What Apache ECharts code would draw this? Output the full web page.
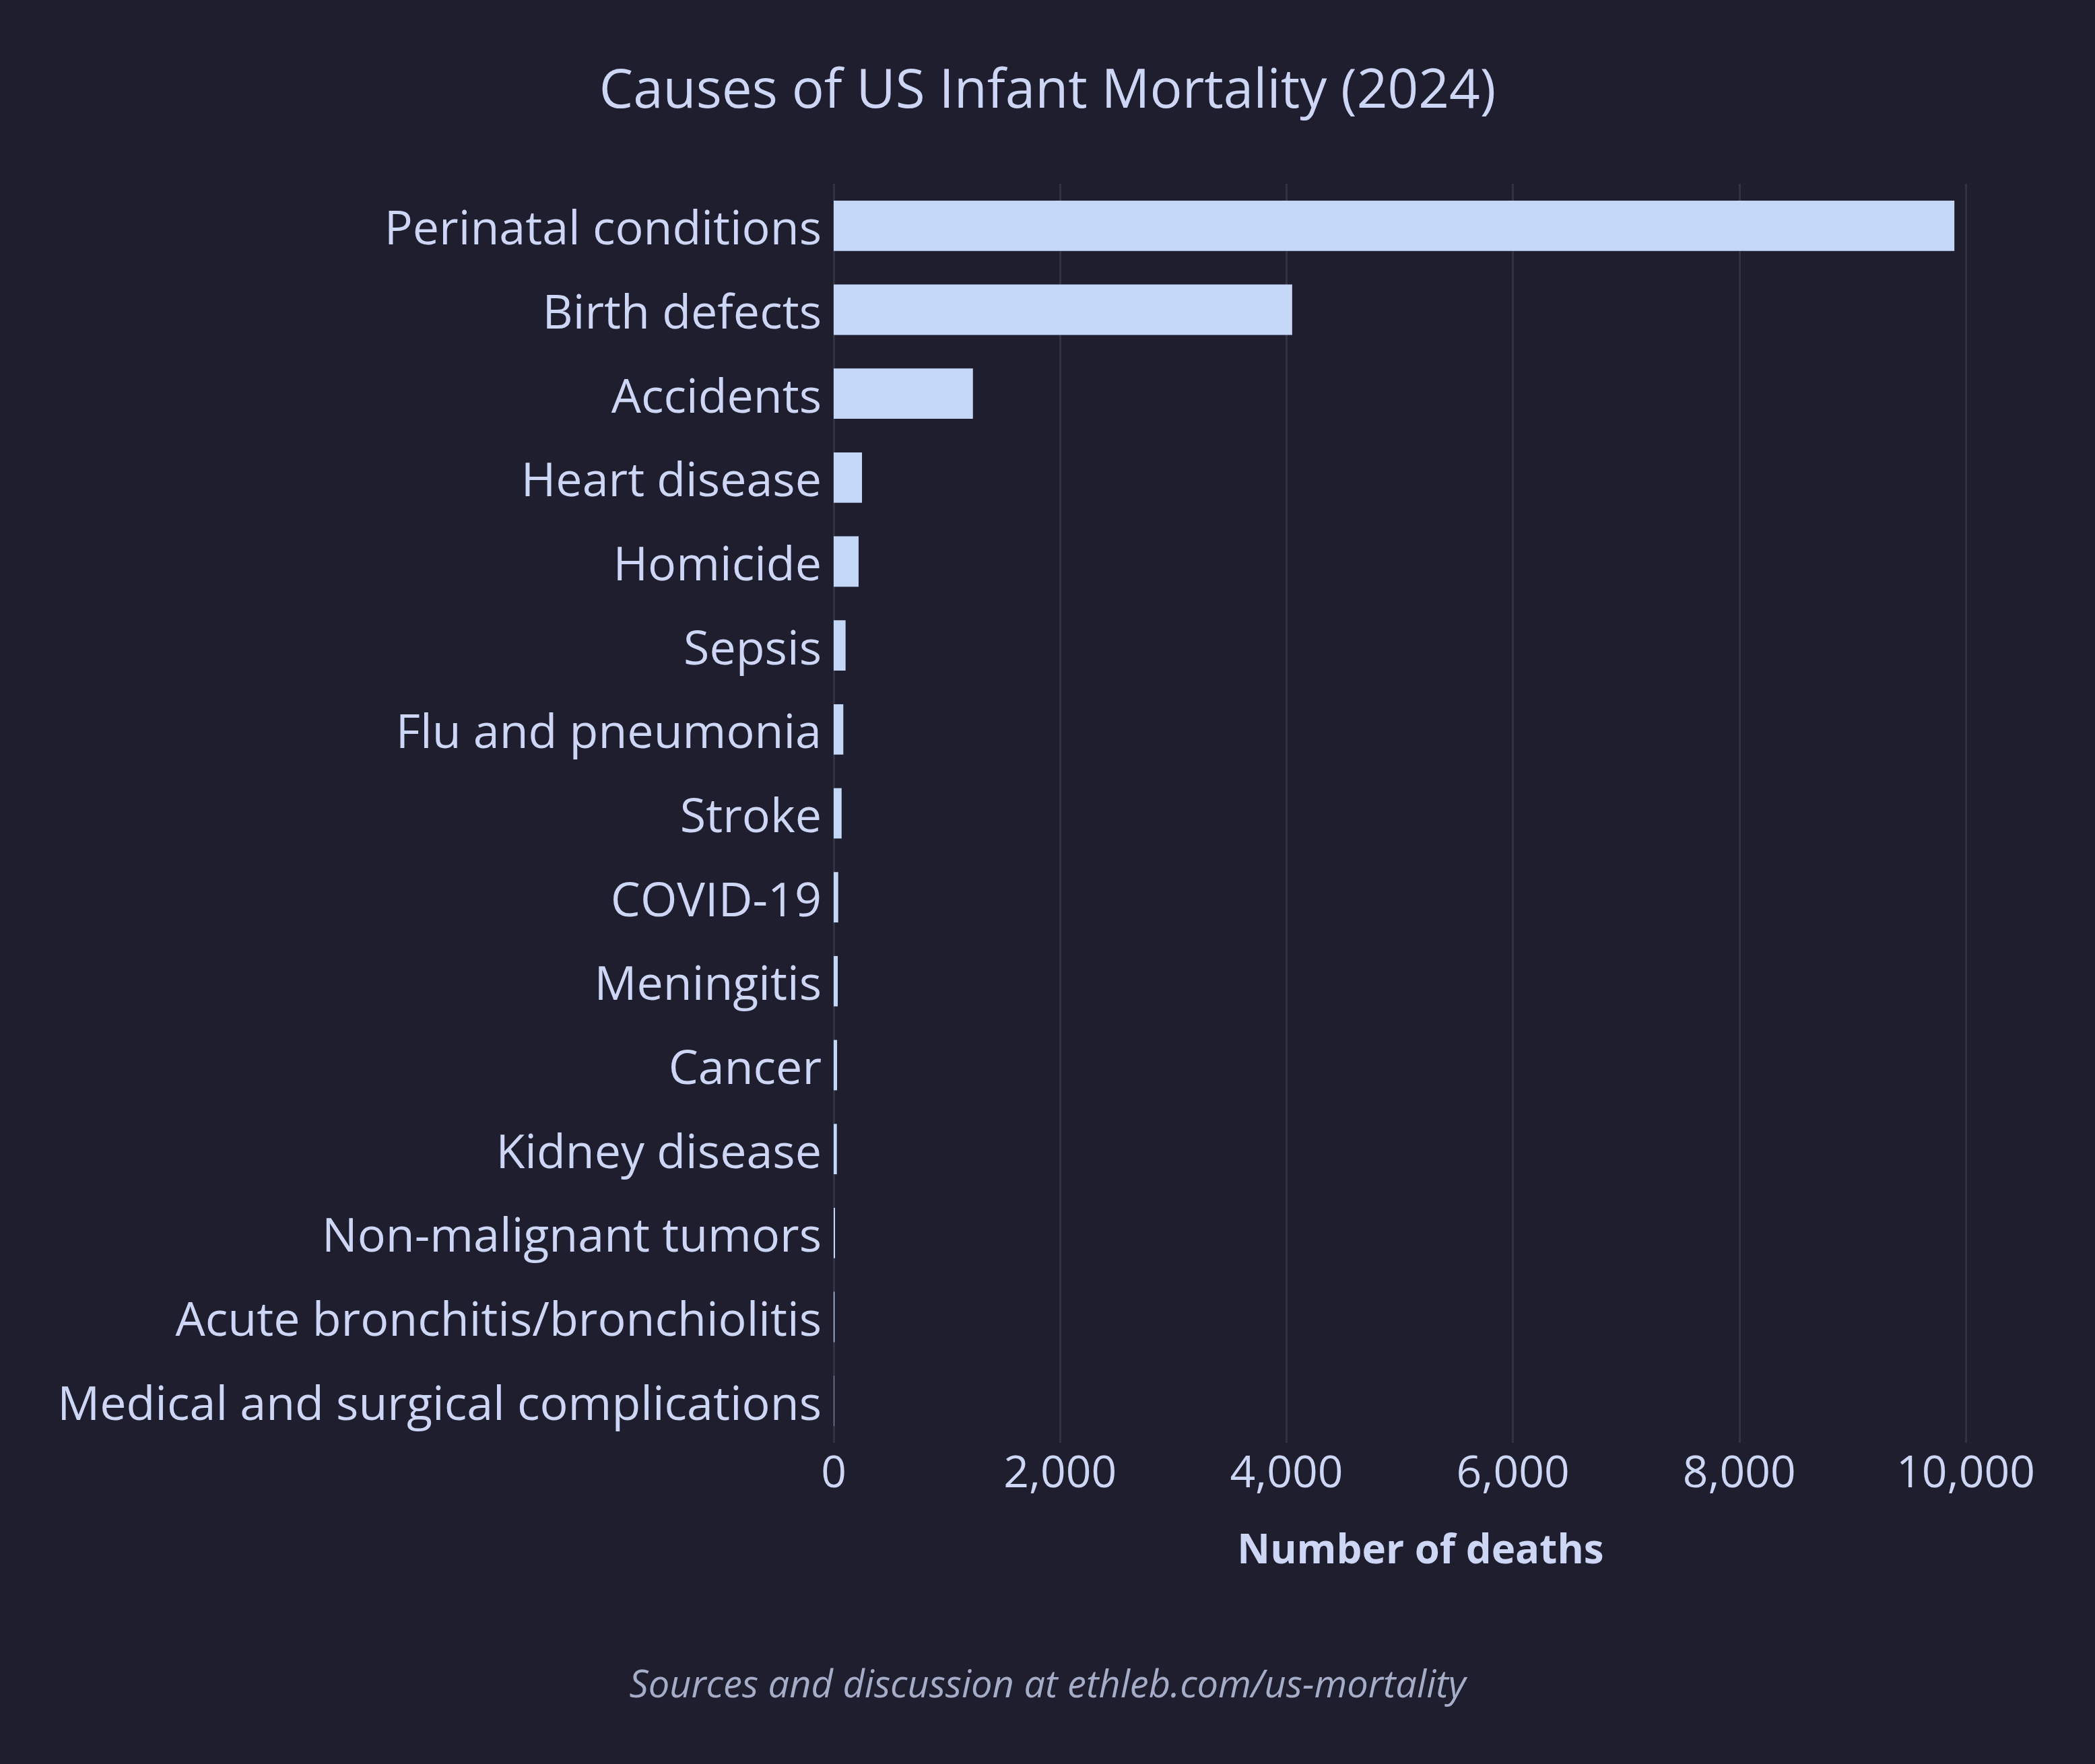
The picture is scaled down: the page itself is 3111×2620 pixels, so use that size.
<!DOCTYPE html>
<html>
<head>
<meta charset="utf-8">
<title>Causes of US Infant Mortality (2024)</title>
<script src="https://cdn.jsdelivr.net/npm/echarts@6.0.0/dist/echarts.min.js"></script>
<style>
    html, body { margin: 0; padding: 0; background: #1e1e2e; }
    #infant_mortality_chart { width: 3111px; height: 2620px; }
</style>
</head>
<body>
<div id="infant_mortality_chart"></div>
<script>
// 死因类别（从上到下）
var causes = [
    'Perinatal conditions',
    'Birth defects',
    'Accidents',
    'Heart disease',
    'Homicide',
    'Sepsis',
    'Flu and pneumonia',
    'Stroke',
    'COVID-19',
    'Meningitis',
    'Cancer',
    'Kidney disease',
    'Non-malignant tumors',
    'Acute bronchitis/bronchiolitis',
    'Medical and surgical complications'
];
// 死亡人数
var deaths = [9900, 4050, 1230, 250, 220, 105, 85, 70, 40, 36, 30, 28, 12, 7, 3];
// x 轴刻度
var deathTicks = [0, 2000, 4000, 6000, 8000, 10000];

/**
 * 页面初始化
 */
window.onload = function () {
    infant_mortality_chart();
};

/**
 * 婴儿死因条形图
 */
function infant_mortality_chart() {
    var myChart = echarts.init(document.getElementById('infant_mortality_chart'));
    var textColor = '#cdd6f4';
    var option = null;
    option = {
        backgroundColor: '#1e1e2e',
        textStyle: {
            fontFamily: 'Open Sans'
        },
        title: [{
            text: 'Causes of US Infant Mortality (2024)',
            left: 'center',
            top: 92,
            textStyle: {
                color: textColor,
                fontSize: 80,
                fontWeight: 'normal',
                fontFamily: 'Open Sans'
            }
        }, {
            text: 'Sources and discussion at ethleb.com/us-mortality',
            left: 'center',
            top: 2472,
            textStyle: {
                color: '#a6adc8',
                fontSize: 56,
                fontStyle: 'italic',
                fontWeight: 'normal',
                fontFamily: 'Open Sans'
            }
        }],
        grid: {
            left: 1238,
            right: 192,
            top: 273,
            bottom: 2620 - 2143,
            containLabel: false
        },
        xAxis: {
            type: 'value',
            min: deathTicks[0],
            max: deathTicks[deathTicks.length - 1],
            interval: deathTicks[1] - deathTicks[0],
            name: 'Number of deaths',
            nameLocation: 'middle',
            nameGap: 132,
            nameTextStyle: {
                color: textColor,
                fontSize: 60,
                fontWeight: 'bold',
                fontFamily: 'Open Sans',
                padding: [0, 0, 0, 62]
            },
            axisLine: {show: false},
            axisTick: {show: false},
            axisLabel: {
                color: textColor,
                fontSize: 66,
                margin: 14,
                formatter: function (value) {
                    return value.toLocaleString('en-US');
                }
            },
            splitLine: {
                show: true,
                lineStyle: {
                    color: '#313244',
                    width: 3
                }
            }
        },
        yAxis: {
            type: 'category',
            data: causes,
            inverse: true,
            axisLine: {show: false},
            axisTick: {show: false},
            axisLabel: {
                color: textColor,
                fontSize: 70,
                margin: 18,
                // 标签略向下偏移，与参考图基线一致
                formatter: function (value) {
                    return '{c|' + value + '}';
                },
                rich: {
                    c: {
                        color: textColor,
                        fontSize: 70,
                        fontFamily: 'Open Sans',
                        padding: [16, 0, 0, 0]
                    }
                }
            },
            splitLine: {show: false}
        },
        series: [{
            name: 'Number of deaths',
            type: 'bar',
            data: deaths,
            barCategoryGap: '40%',
            itemStyle: {
                color: '#c5d7f6'
            },
            animation: false
        }]
    };
    if (option && typeof option === "object") {
        myChart.setOption(option, true);
    }
}
</script>
</body>
</html>
